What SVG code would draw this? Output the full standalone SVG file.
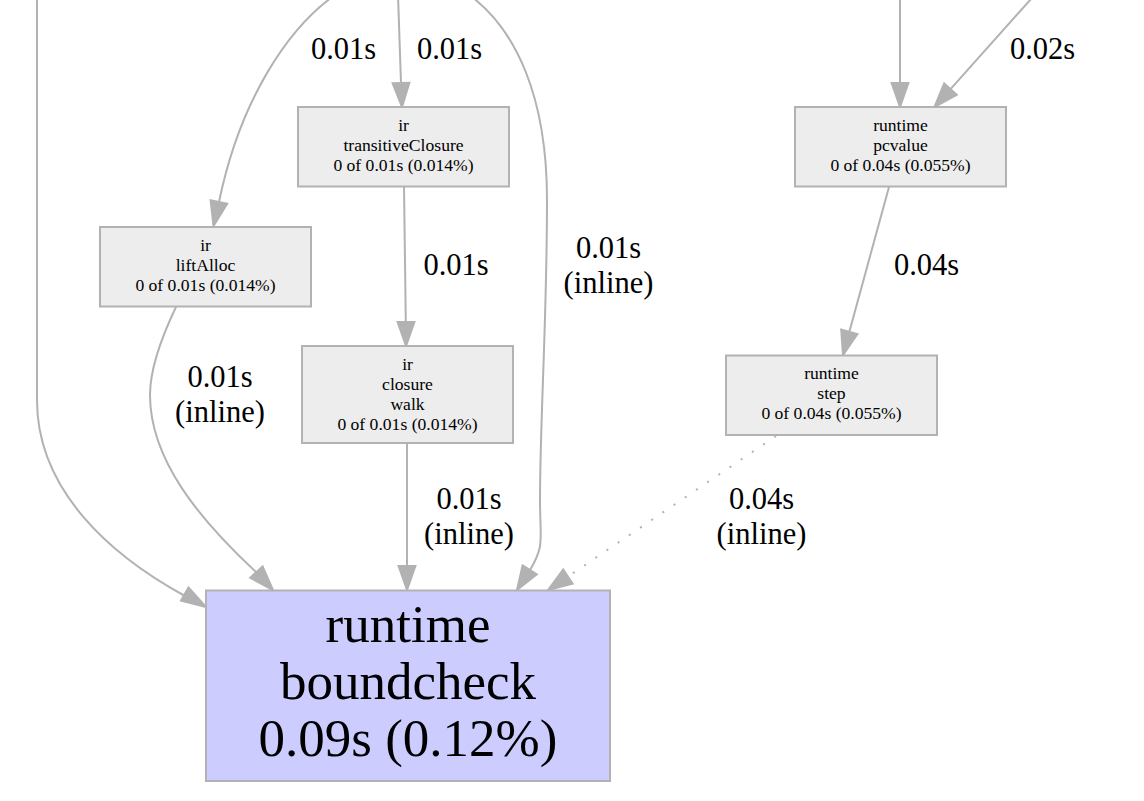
<svg xmlns="http://www.w3.org/2000/svg" width="1144" height="801" viewBox="0 0 1144 801">
<style>
.box{fill:#ededed;stroke:#b2b2b2;stroke-width:2}
.big{fill:#ccccff;stroke:#b2b2b2;stroke-width:2}
.nt{font-family:"Liberation Serif","Times New Roman",serif;font-size:17.6px;fill:#000;text-anchor:middle}
.bt{font-family:"Liberation Serif","Times New Roman",serif;font-size:53px;fill:#000;text-anchor:middle}
.el{font-family:"Liberation Serif","Times New Roman",serif;font-size:30.5px;fill:#000;text-anchor:middle}
.e{fill:none;stroke:#b2b2b2;stroke-width:2}
.dot{stroke-dasharray:2,11.5}
.ah{fill:#b2b2b2;stroke:#b2b2b2;stroke-width:2}
</style>
<rect width="1144" height="801" fill="#ffffff"/>
<g id="connectors">
  <!-- left long edge into boundcheck -->
  <path class="e" d="M37,-5 V400 C37,490 110,555 185,596"/>
  <polygon class="ah" points="206,607 181,600.5 188.5,587.5"/>
  <!-- top to liftAlloc -->
  <path class="e" d="M335,-5 C288,28 240,100 219,202"/>
  <polygon class="ah" points="213.5,226 210.6,200.2 227.2,203.6"/>
  <text class="el" x="343.5" y="59">0.01s</text>
  <!-- top to transitiveClosure -->
  <path class="e" d="M398,-5 L401,83"/>
  <polygon class="ah" points="402,107 392.6,83.3 409.4,82.7"/>
  <text class="el" x="449.5" y="59">0.01s</text>
  <!-- top right curve into boundcheck -->
  <path class="e" d="M472,-3 C515,30 547,95 547,200 C547,320 540,420 540,500 C540,540 545,545 530,570"/>
  <polygon class="ah" points="517,590 522.6,565.3 536.8,574.4"/>
  <text class="el" x="608.5" y="258">0.01s</text>
  <text class="el" x="608.5" y="293">(inline)</text>
  <!-- transitiveClosure -> closure walk -->
  <path class="e" d="M404,186 L405.8,322"/>
  <polygon class="ah" points="406,346 397.6,322.1 414.4,321.9"/>
  <text class="el" x="456" y="275">0.01s</text>
  <!-- liftAlloc -> boundcheck -->
  <path class="e" d="M176,307 C165,330 150,365 150,395 C150,460 200,520 256,572"/>
  <polygon class="ah" points="273,590 250.2,577.8 262.6,566.4"/>
  <text class="el" x="220" y="387">0.01s</text>
  <text class="el" x="220" y="422">(inline)</text>
  <!-- closure walk -> boundcheck -->
  <path class="e" d="M407,443 L407,566"/>
  <polygon class="ah" points="407,590 398.6,566 415.4,566"/>
  <text class="el" x="469" y="509">0.01s</text>
  <text class="el" x="469" y="544">(inline)</text>
  <!-- top to pcvalue -->
  <path class="e" d="M900,-5 L900,83"/>
  <polygon class="ah" points="900,107 891.6,83 908.4,83"/>
  <!-- diagonal to pcvalue -->
  <path class="e" d="M1040,-11 L950.5,89.1"/>
  <polygon class="ah" points="934.5,107 944.2,83.5 956.8,94.7"/>
  <text class="el" x="1042.5" y="59">0.02s</text>
  <!-- pcvalue -> step -->
  <path class="e" d="M889,187 L849.3,331.9"/>
  <polygon class="ah" points="843,355 841.2,329.7 857.4,334.1"/>
  <text class="el" x="926.5" y="275">0.04s</text>
  <!-- step -> boundcheck (dotted) -->
  <path class="e dot" d="M776,436 L567.9,576.6"/>
  <polygon class="ah" points="548,590 563.2,569.6 572.6,583.6"/>
  <text class="el" x="761.5" y="509">0.04s</text>
  <text class="el" x="761.5" y="544">(inline)</text>
</g>
<g id="node-transitiveClosure">
  <rect class="box" x="298" y="107" width="211" height="79.5"/>
  <text class="nt" x="403.5" y="130.5">ir</text>
  <text class="nt" x="403.5" y="150.5">transitiveClosure</text>
  <text class="nt" x="403.5" y="170.5">0 of 0.01s (0.014%)</text>
</g>
<g id="node-liftAlloc">
  <rect class="box" x="100" y="227" width="211" height="79.5"/>
  <text class="nt" x="205.5" y="250.5">ir</text>
  <text class="nt" x="205.5" y="270.5">liftAlloc</text>
  <text class="nt" x="205.5" y="290.5">0 of 0.01s (0.014%)</text>
</g>
<g id="node-closure-walk">
  <rect class="box" x="302" y="346" width="211" height="97"/>
  <text class="nt" x="407.5" y="369.5">ir</text>
  <text class="nt" x="407.5" y="389.5">closure</text>
  <text class="nt" x="407.5" y="409.5">walk</text>
  <text class="nt" x="407.5" y="429.5">0 of 0.01s (0.014%)</text>
</g>
<g id="node-pcvalue">
  <rect class="box" x="795" y="107" width="211" height="79.5"/>
  <text class="nt" x="900.5" y="130.5">runtime</text>
  <text class="nt" x="900.5" y="150.5">pcvalue</text>
  <text class="nt" x="900.5" y="170.5">0 of 0.04s (0.055%)</text>
</g>
<g id="node-step">
  <rect class="box" x="726" y="355.5" width="211" height="79.5"/>
  <text class="nt" x="831.5" y="379">runtime</text>
  <text class="nt" x="831.5" y="399">step</text>
  <text class="nt" x="831.5" y="419">0 of 0.04s (0.055%)</text>
</g>
<g id="node-boundcheck">
  <rect class="big" x="206" y="590.5" width="404" height="190.5"/>
  <text class="bt" x="408" y="642">runtime</text>
  <text class="bt" x="408" y="699">boundcheck</text>
  <text class="bt" x="408" y="756">0.09s (0.12%)</text>
</g>
</svg>
